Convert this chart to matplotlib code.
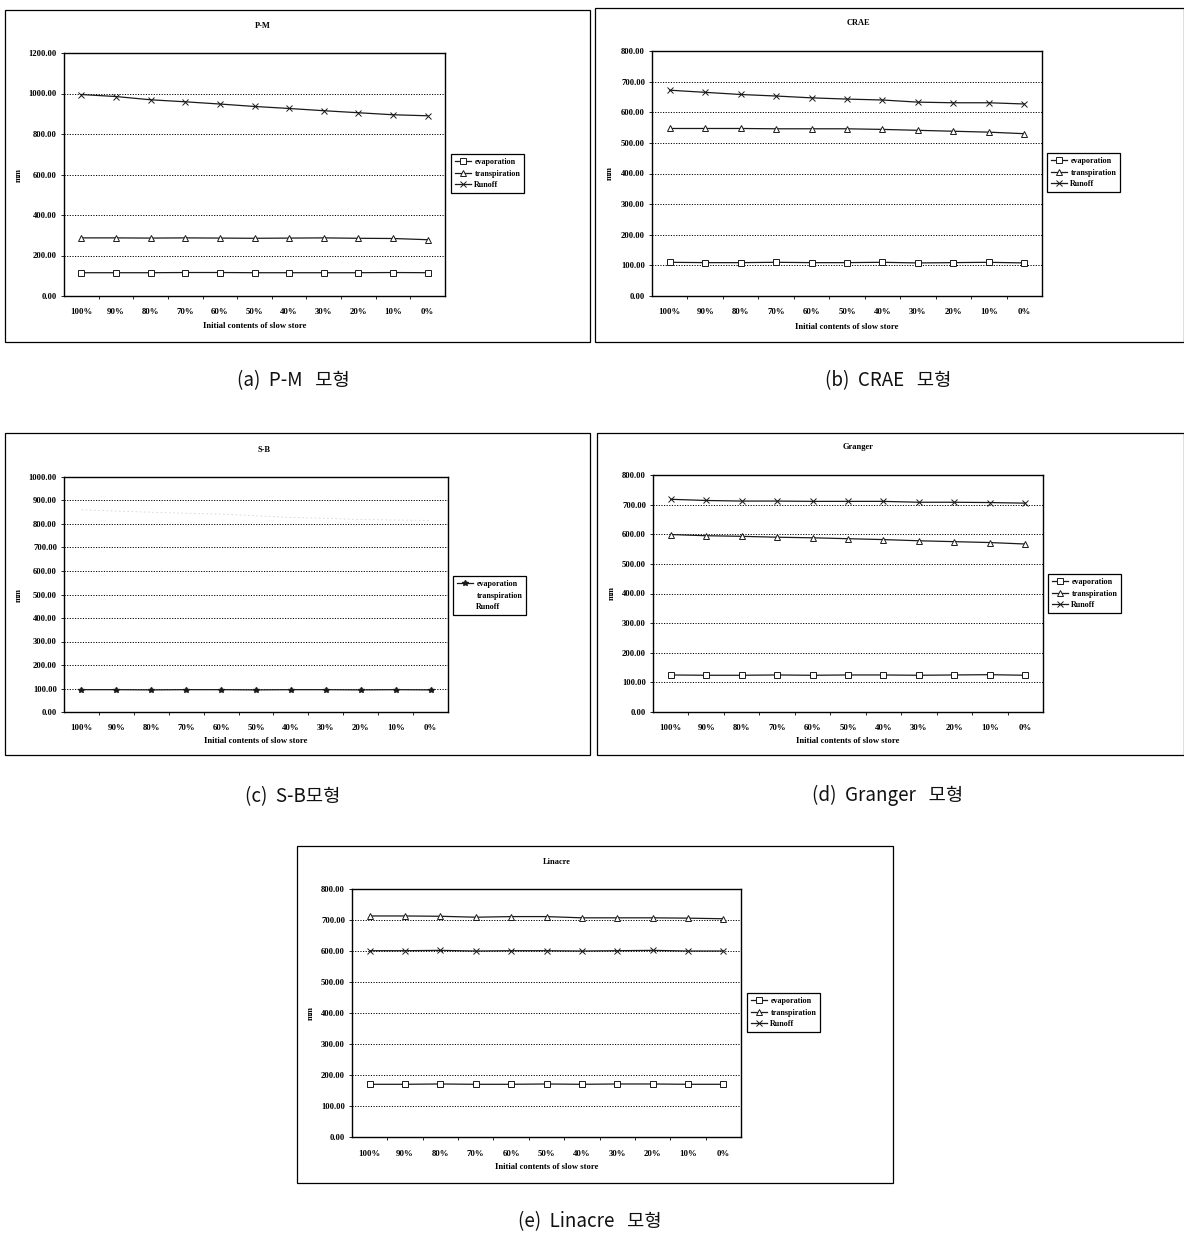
import matplotlib
matplotlib.use("Agg")
import matplotlib.pyplot as plt
from matplotlib.patches import Rectangle
from matplotlib.lines import Line2D

W, H = 1184, 1235

categories = ["100%", "90%", "80%", "70%", "60%", "50%", "40%", "30%", "20%", "10%", "0%"]

# P-M model
pm_evap = [115, 115, 115, 116, 116, 115, 115, 115, 115, 116, 115]
pm_transp = [287, 287, 286, 287, 286, 285, 286, 287, 285, 284, 278]
pm_runoff = [995, 985, 969, 959, 948, 936, 926, 915, 905, 895, 890]

# CRAE model
crae_evap = [110, 109, 109, 110, 109, 109, 110, 108, 109, 110, 108]
crae_transp = [547, 547, 547, 546, 546, 546, 544, 541, 538, 535, 530]
crae_runoff = [672, 665, 658, 653, 647, 643, 640, 633, 631, 631, 627]

# S-B model
sb_evap = [95, 95, 94, 95, 95, 94, 95, 95, 94, 95, 94]
sb_runoff = [860, 855, 850, 846, 842, 835, 828, 824, 819, 817, 815]

# Granger model
gr_evap = [125, 124, 124, 125, 124, 125, 125, 124, 125, 126, 124]
gr_transp = [599, 595, 593, 590, 588, 585, 582, 578, 575, 572, 567]
gr_runoff = [718, 714, 712, 712, 711, 711, 711, 708, 708, 707, 705]

# Linacre model
li_evap = [170, 170, 171, 170, 170, 171, 170, 171, 171, 170, 170]
li_transp = [713, 713, 712, 709, 711, 711, 707, 707, 707, 706, 704]
li_runoff = [601, 601, 602, 600, 601, 601, 600, 601, 602, 600, 600]

series_names = ["evaporation", "transpiration", "Runoff"]

serif = ["Liberation Serif", "DejaVu Serif"]
fig = plt.figure(figsize=(W / 100, H / 100), dpi=100)


def fbox(x0, y0, x1, y1):
    return [x0 / W, 1 - y1 / H, (x1 - x0) / W, (y1 - y0) / H]


def fx(x):
    return x / W


def fy(y):
    return 1 - y / H


def make_legend(ax, handles, xy):
    leg = ax.legend(handles, series_names, loc="upper left",
                    bbox_to_anchor=(fx(xy[0]), fy(xy[1])),
                    bbox_transform=fig.transFigure, fancybox=False,
                    edgecolor="black", framealpha=1, borderaxespad=0,
                    prop={"family": serif, "size": 5.8, "weight": "bold"},
                    handlelength=2.0, handletextpad=0.4, borderpad=0.5,
                    labelspacing=0.45)
    leg.get_frame().set_linewidth(0.9)
    return leg


def panel(plot_px, frame_px, legend_xy, title, title_xy, ylab_x, xlab_y,
          ymax, ystep, series, caption, caption_xy, handles=None):
    # outer frame
    x0, y0, x1, y1 = frame_px
    fig.patches.append(Rectangle((fx(x0), fy(y1)), (x1 - x0) / W, (y1 - y0) / H,
                                 transform=fig.transFigure, fill=False,
                                 edgecolor="black", linewidth=0.9))
    ax = fig.add_axes(fbox(*plot_px))
    xs = list(range(len(categories)))
    lines = []
    for vals, kw in series:
        ln, = ax.plot(xs, vals, **kw)
        lines.append(ln)
    ax.set_xlim(-0.5, len(categories) - 0.5)
    ax.set_ylim(0, ymax)
    yt = [i * ystep for i in range(int(ymax / ystep) + 1)]
    ax.set_yticks(yt)
    ax.set_yticklabels([f"{v:.2f}" for v in yt], fontsize=6.2,
                       family=serif, weight="bold")
    ax.set_xticks(xs)
    ax.set_xticklabels(categories, fontsize=6.3, family=serif, weight="bold")
    ax.set_xticks([i + 0.5 for i in xs[:-1]], minor=True)
    ax.tick_params(axis="x", which="major", length=0, pad=9)
    ax.tick_params(axis="x", which="minor", length=2.5, direction="out", width=0.6)
    ax.tick_params(axis="y", length=2, width=0.6, pad=3)
    for y in yt[1:-1]:
        ax.axhline(y, color="black", linestyle=(0, (1.2, 1.5)), linewidth=0.7, zorder=0)
    for s in ax.spines.values():
        s.set_linewidth(1.0)
        s.set_color("black")
    fig.text(fx(title_xy[0]), fy(title_xy[1]), title, ha="center", va="center",
             fontsize=6.0, family=serif, weight="bold")
    fig.text(fx(ylab_x), fy((plot_px[1] + plot_px[3]) / 2), "mm", rotation=90,
             ha="center", va="center", fontsize=6.0, family=serif, weight="bold")
    fig.text(fx((plot_px[0] + plot_px[2]) / 2), fy(xlab_y),
             "Initial contents of slow store", ha="center", va="center",
             fontsize=6.2, family=serif, weight="bold")
    make_legend(ax, lines if handles is None else handles, legend_xy)
    fig.text(fx(caption_xy[0]), fy(caption_xy[1]), caption, ha="center",
             va="center", fontsize=13.5, weight="light",
             family=["Noto Sans CJK KR", "DejaVu Sans"], color="#111111")
    return ax


lk = dict(color="#1a1a1a", linewidth=0.9, markerfacecolor="white",
          markeredgecolor="#1a1a1a", markeredgewidth=0.7)
ev = dict(marker="s", markersize=4.5, **lk)
tr = dict(marker="^", markersize=5, **lk)
ro = dict(marker="x", markersize=4.5, **lk)

panel((64, 53, 445, 296), (5, 10, 590, 342), (451, 154), "P-M", (263, 26),
      19, 326, 1200, 200,
      [(pm_evap, ev), (pm_transp, tr), (pm_runoff, ro)],
      "(a)  P-M   모형", (293, 381))

panel((652, 51, 1042, 296), (595, 8, 1184, 342), (1047, 153), "CRAE", (858, 23),
      610, 327, 800, 100,
      [(crae_evap, ev), (crae_transp, tr), (crae_runoff, ro)],
      "(b)  CRAE   모형", (888, 381))

sb_ev = dict(color="#1a1a1a", linewidth=0.9, marker="*", markersize=4,
             markerfacecolor="#1a1a1a", markeredgecolor="#1a1a1a")
sb_ro = dict(color="#d4d4d4", linewidth=0.6, linestyle=(0, (2, 3)))
blank = Line2D([], [], color="none")
ax_c = panel((64, 477, 448, 712), (5, 433, 590, 755), (453, 576), "S-B", (264, 450),
             19, 741, 1000, 100,
             [(sb_evap, sb_ev), (sb_runoff, sb_ro)],
             "(c)  S-B모형", (293, 797))
make_legend(ax_c, [ax_c.lines[0], blank, blank], (453, 576))

panel((653, 475, 1043, 712), (597, 433, 1184, 755), (1048, 574), "Granger", (858, 447),
      612, 741, 800, 100,
      [(gr_evap, ev), (gr_transp, tr), (gr_runoff, ro)],
      "(d)  Granger   모형", (888, 795))

panel((352, 889, 741, 1137), (297, 846, 893, 1183), (747, 993), "Linacre", (557, 862),
      311, 1167, 800, 100,
      [(li_evap, ev), (li_transp, tr), (li_runoff, ro)],
      "(e)  Linacre   모형", (590, 1222))

fig.savefig("out.png", dpi=100, facecolor="white")
